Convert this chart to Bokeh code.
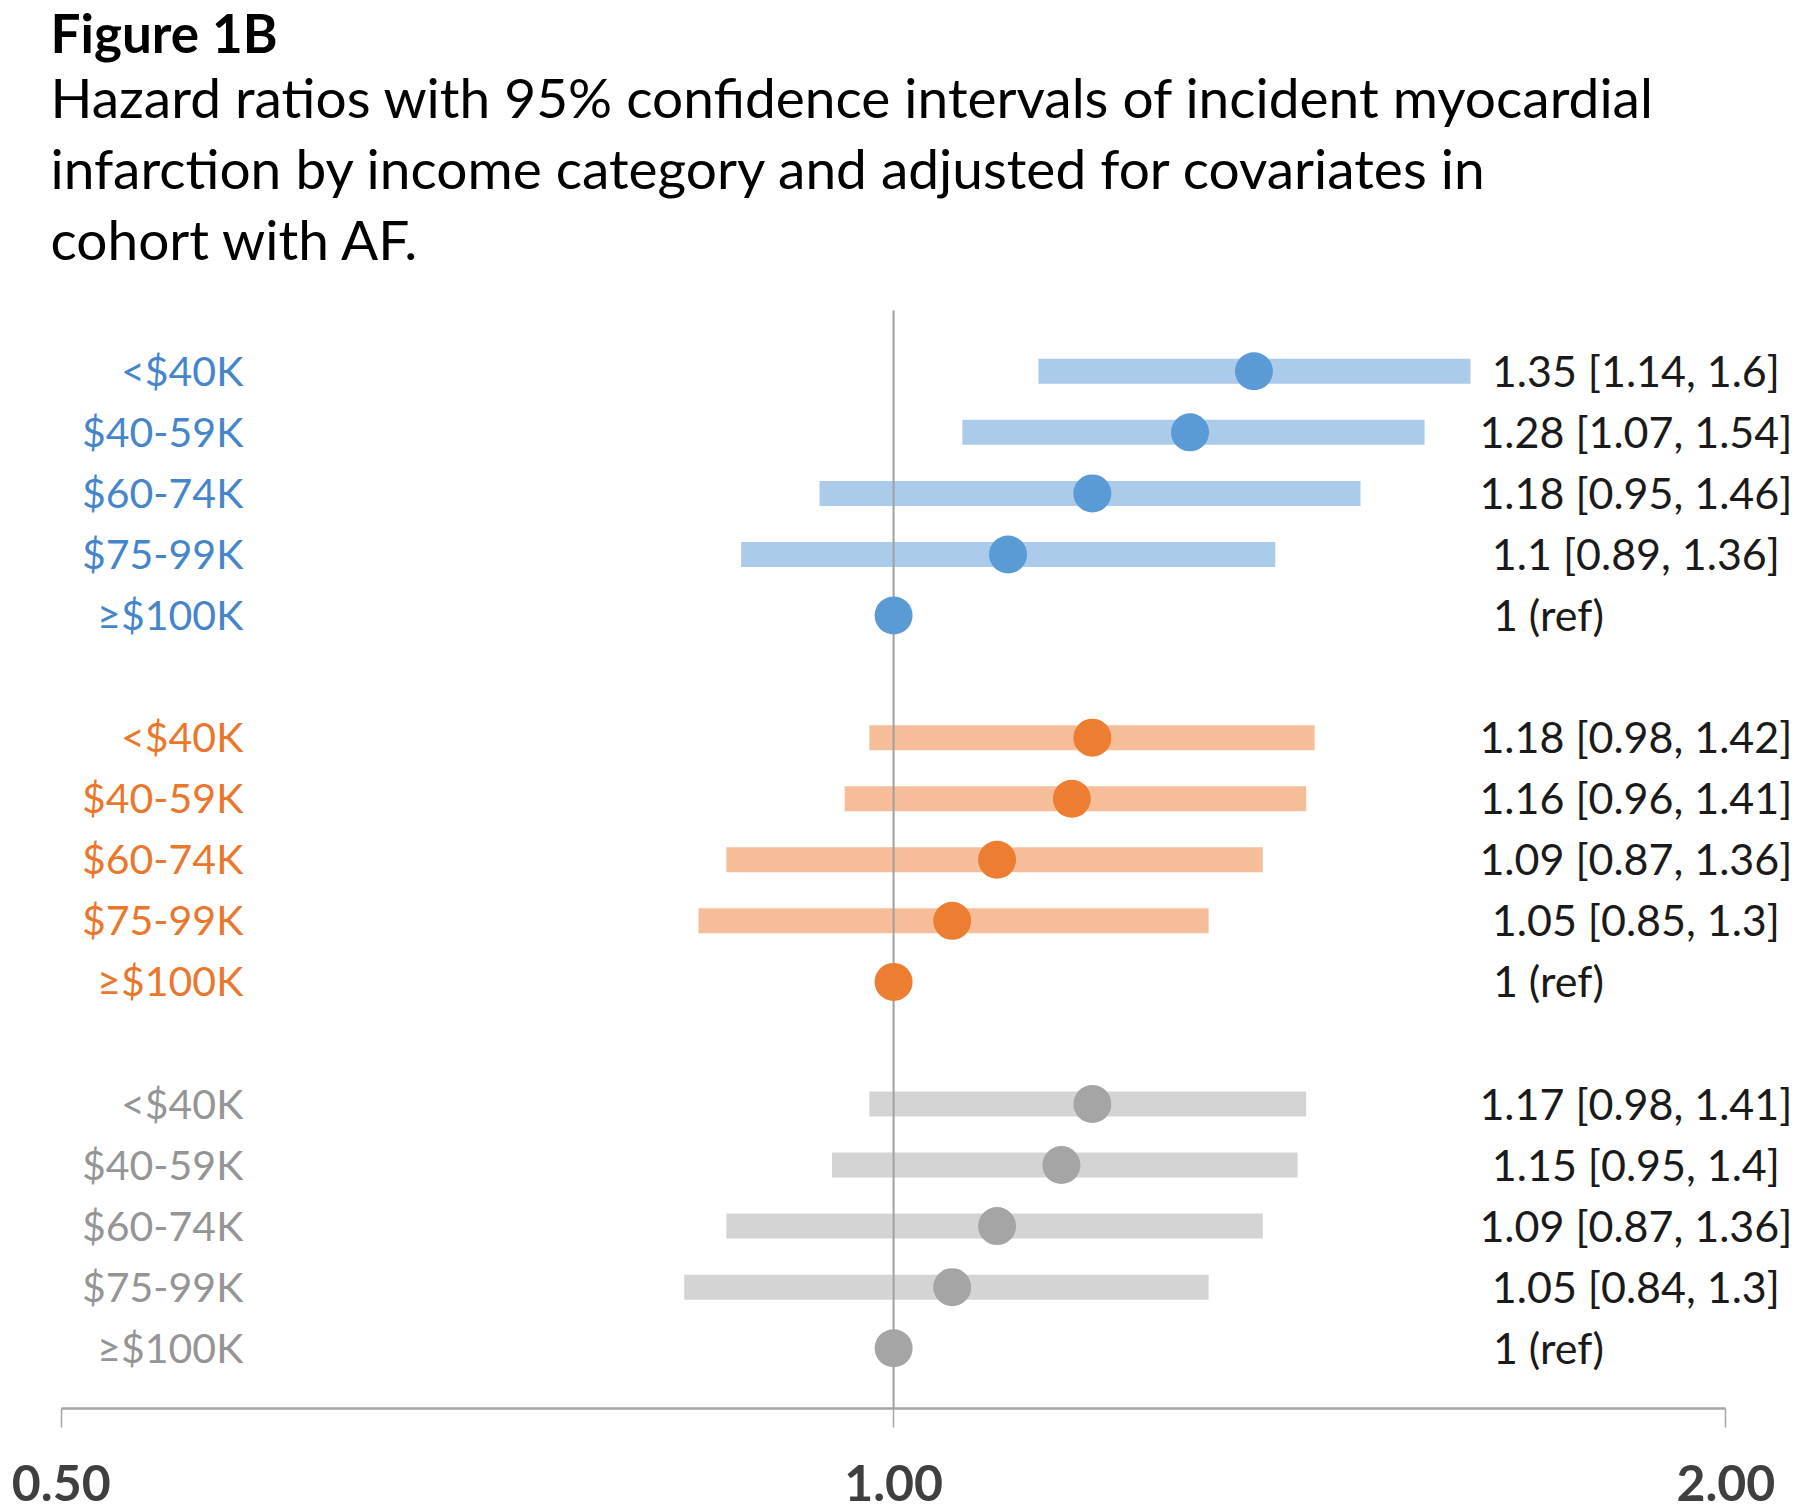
from bokeh.plotting import figure
from bokeh.models import Range1d, FixedTicker, NumeralTickFormatter, Label, ColumnDataSource
from bokeh.core.properties import value
from bokeh.embed import file_html
from bokeh.resources import INLINE

# ---------------- data ----------------
categories = ["<$40K", "$40-59K", "$60-74K", "$75-99K", "≥$100K"]

blue_hr = [1.35, 1.28, 1.18, 1.10, 1.00]
blue_lo = [1.14, 1.07, 0.95, 0.89]
blue_hi = [1.60, 1.54, 1.46, 1.36]
blue_labels = ["1.35 [1.14, 1.6]", "1.28 [1.07, 1.54]", "1.18 [0.95, 1.46]", "1.1 [0.89, 1.36]", "1 (ref)"]

orange_hr = [1.18, 1.16, 1.09, 1.05, 1.00]
orange_lo = [0.98, 0.96, 0.87, 0.85]
orange_hi = [1.42, 1.41, 1.36, 1.30]
orange_labels = ["1.18 [0.98, 1.42]", "1.16 [0.96, 1.41]", "1.09 [0.87, 1.36]", "1.05 [0.85, 1.3]", "1 (ref)"]

gray_hr = [1.18, 1.15, 1.09, 1.05, 1.00]
gray_lo = [0.98, 0.95, 0.87, 0.84]
gray_hi = [1.41, 1.40, 1.36, 1.30]
gray_labels = ["1.17 [0.98, 1.41]", "1.15 [0.95, 1.4]", "1.09 [0.87, 1.36]", "1.05 [0.84, 1.3]", "1 (ref)"]

tick_values = [0.5, 1.0, 2.0]
tick_labels = ["0.50", "1.00", "2.00"]

title_text = "Figure 1B"
subtitle_lines = [
    "Hazard ratios with 95% confidence intervals of incident myocardial",
    "infarction by income category and adjusted for covariates in",
    "cohort with AF.",
]

# ---------------- layout / style ----------------
W, H = 1800, 1512
FONT = "Lato"
group_start_rows = [0, 6, 12]
groups = [
    dict(hr=blue_hr, lo=blue_lo, hi=blue_hi, labels=blue_labels,
         point="#5B9BD5", bar="#AACBEA", text="#4585CB", cap="square"),
    dict(hr=orange_hr, lo=orange_lo, hi=orange_hi, labels=orange_labels,
         point="#ED7D31", bar="#F6BE98", text="#EA772B", cap="butt"),
    dict(hr=gray_hr, lo=gray_lo, hi=gray_hi, labels=gray_labels,
         point="#A5A5A5", bar="#D4D4D4", text="#959595", cap="butt"),
]

p = figure(width=W, height=H, x_axis_type="log",
           x_range=Range1d(0.47531, 2.1282), y_range=Range1d(16.987, -6.073),
           y_axis_location=None, toolbar_location=None, output_backend="svg",
           min_border_left=0, min_border_right=0, min_border_top=0, min_border_bottom=104)
p.outline_line_color = None
p.xgrid.visible = False
p.ygrid.visible = False
p.background_fill_color = "white"
p.border_fill_color = "white"

# x axis
ax = p.xaxis[0]
ax.bounds = (tick_values[0], tick_values[-1])
ax.ticker = FixedTicker(ticks=tick_values, minor_ticks=[])
ax.formatter = NumeralTickFormatter(format="0.00")
ax.major_label_overrides = {v: t for v, t in zip(tick_values, tick_labels)}
ax.axis_line_color = "#A6A6A6"
ax.axis_line_width = 2.5
ax.major_tick_line_color = "#A6A6A6"
ax.major_tick_line_width = 1.5
ax.major_tick_out = 19
ax.major_tick_in = 0
ax.minor_tick_line_color = None
ax.major_label_standoff = 37
ax.major_label_text_font = FONT
ax.major_label_text_font_style = "bold"
ax.major_label_text_font_size = "50px"
ax.major_label_text_color = "#3F3F3F"

LABEL_X = 0.5      # anchor for category labels (with pixel offset)
VALUE_X = 2.0      # anchor for value labels (with pixel offset)

# bars
for g, start in zip(groups, group_start_rows):
    rows_ci = [start + i for i in range(len(g["lo"]))]
    src = ColumnDataSource(dict(lo=g["lo"], hi=g["hi"], y=rows_ci))
    p.segment(x0="lo", x1="hi", y0="y", y1="y", source=src,
              line_color=g["bar"], line_width=25, line_cap=g["cap"])

# reference line at HR = 1
p.segment(x0=[1.0], x1=[1.0], y0=[-0.996], y1=[16.987], line_color="#A0A0A0", line_width=2)

# points and texts
for g, start in zip(groups, group_start_rows):
    rows = [start + i for i in range(len(g["hr"]))]
    p.scatter(x=g["hr"], y=rows, size=38, fill_color=g["point"], line_color=None)
    p.text(x=[LABEL_X] * len(rows), y=rows, text=categories, x_offset=182, y_offset=-1,
           text_align="right", text_baseline="alphabetic", text_font=value(FONT),
           text_font_size="41px", text_color=g["text"])
    ci_rows = [r for r, t in zip(rows, g["labels"]) if "[" in t]
    ci_txt = [t for t in g["labels"] if "[" in t]
    ref_rows = [r for r, t in zip(rows, g["labels"]) if "[" not in t]
    ref_txt = [t for t in g["labels"] if "[" not in t]
    p.text(x=[VALUE_X] * len(ci_rows), y=ci_rows, text=ci_txt, x_offset=-90, y_offset=-1,
           text_align="center", text_baseline="alphabetic", text_font=value(FONT),
           text_font_size="43px", text_color="#1A1A1A")
    p.text(x=[VALUE_X] * len(ref_rows), y=ref_rows, text=ref_txt, x_offset=-233, y_offset=-1,
           text_align="left", text_baseline="alphabetic", text_font=value(FONT),
           text_font_size="43px", text_color="#1A1A1A")

# header
p.add_layout(Label(x=50, x_units="screen", y=-5.55, y_units="data", text=title_text,
                   text_font=FONT, text_font_style="bold", text_font_size="53px",
                   text_color="#000000", text_baseline="alphabetic"))
for line, yrow in zip(subtitle_lines, [-4.49, -3.33, -2.17]):
    p.add_layout(Label(x=50, x_units="screen", y=yrow, y_units="data", text=line,
                       text_font=FONT, text_font_size="55px", text_color="#000000",
                       text_baseline="alphabetic"))

open("out.html", "w").write(file_html(p, INLINE))
